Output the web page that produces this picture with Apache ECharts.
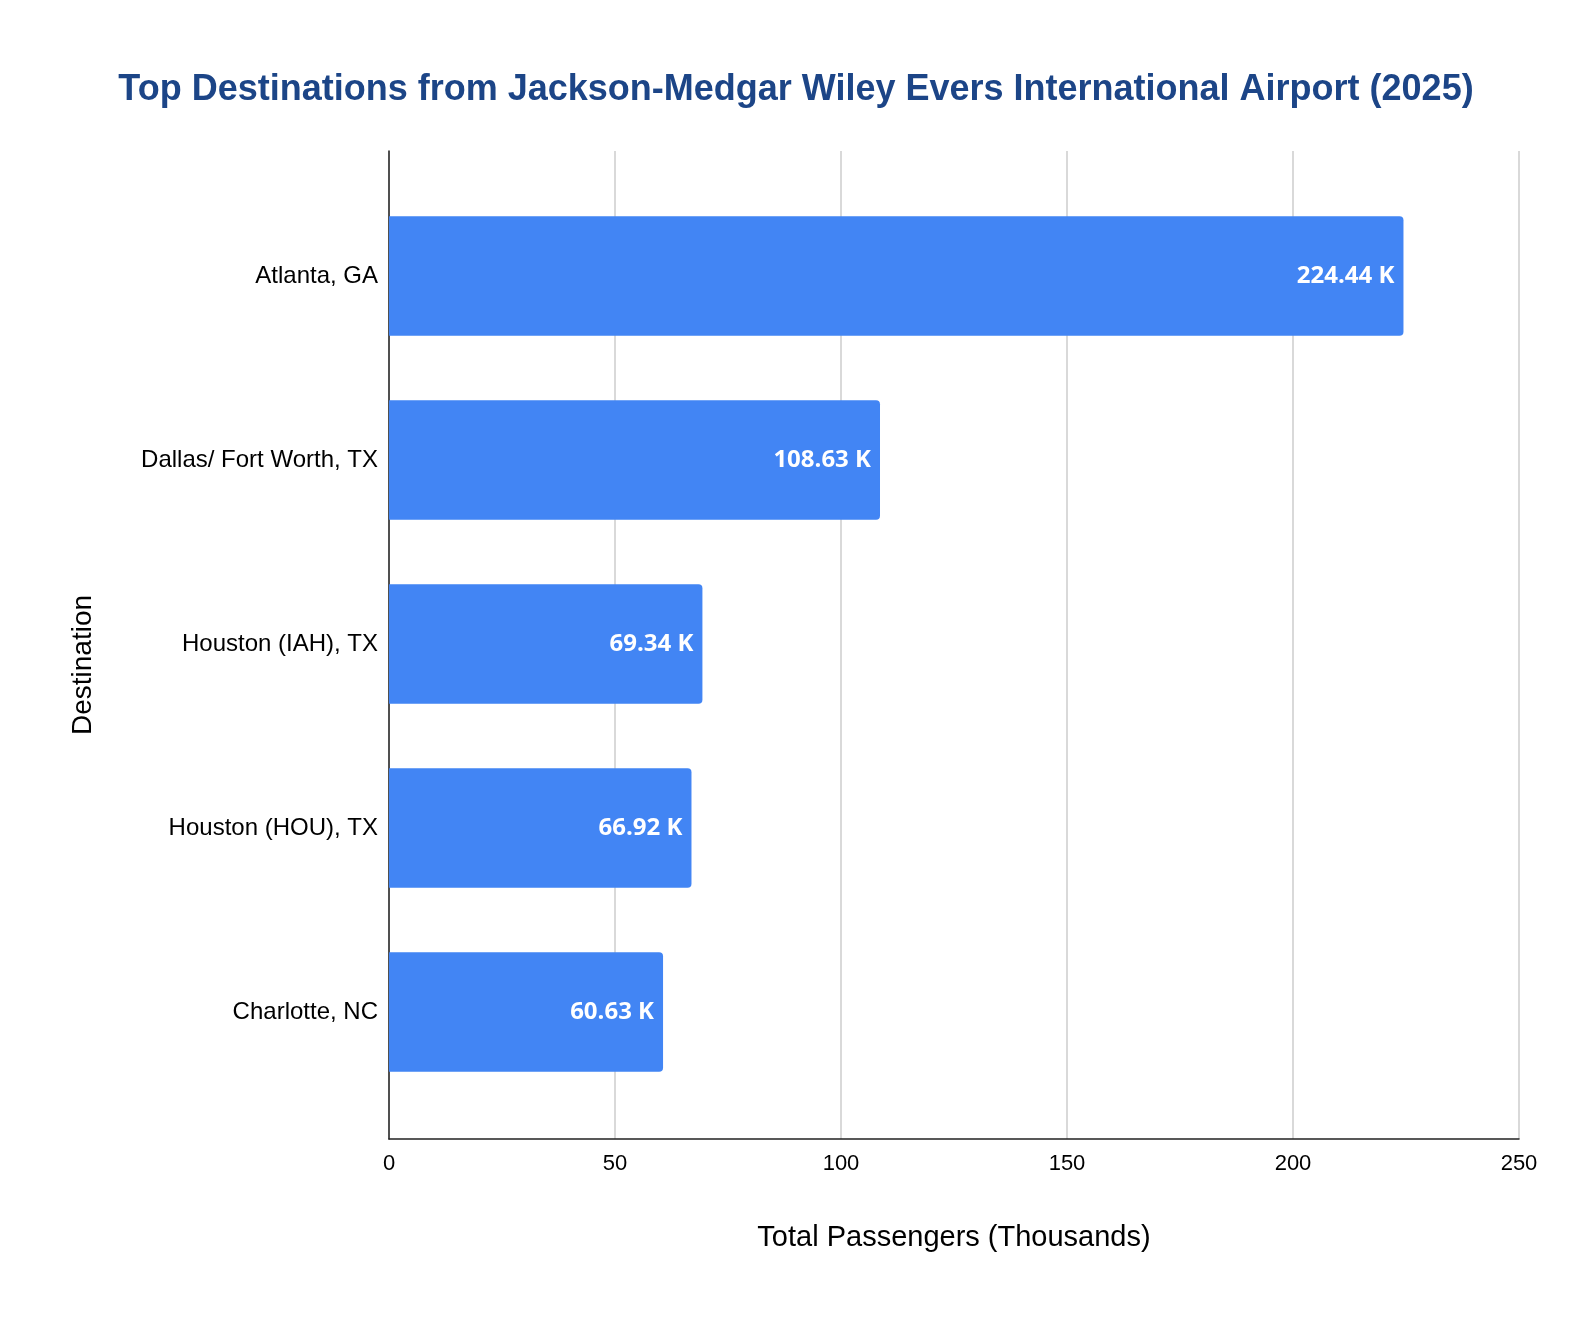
<!DOCTYPE html>
<html><head><meta charset="utf-8">
<script src="https://cdn.jsdelivr.net/npm/echarts@6/dist/echarts.min.js"></script>
<style>html,body{margin:0;padding:0;background:#fff}#c{width:1584px;height:1318px}</style>
</head><body><div id="c"></div>
<script>
const categories = ["Atlanta, GA", "Dallas/ Fort Worth, TX", "Houston (IAH), TX", "Houston (HOU), TX", "Charlotte, NC"];
const passengers = [224.44, 108.63, 69.34, 66.92, 60.63];
const xTicks = [0, 50, 100, 150, 200, 250];

const chart = echarts.init(document.getElementById('c'), null, {renderer: 'canvas'});
const sans = "'Liberation Sans', Arial, sans-serif";
chart.setOption({
  backgroundColor: '#fff',
  animation: false,
  title: {
    text: 'Top Destinations from Jackson-Medgar Wiley Evers International Airport (2025)',
    left: 791, top: 85, textAlign: 'center', textVerticalAlign: 'middle',
    textStyle: {fontFamily: sans, fontSize: 36, fontWeight: 'bold', color: '#1c4587'}
  },
  grid: [
    {left: 389, right: 65, top: 151, bottom: 179},
    {left: 389, right: 65, top: 184, bottom: 214}
  ],
  xAxis: [
    {type: 'value', gridIndex: 0, min: xTicks[0], max: xTicks[xTicks.length - 1], interval: xTicks[1] - xTicks[0],
     axisLine: {show: true, lineStyle: {color: '#222', width: 1.5}},
     axisTick: {show: false},
     axisLabel: {color: '#000', fontFamily: sans, fontSize: 22, margin: 14},
     splitLine: {show: true, lineStyle: {color: '#cccccc', width: 1.5}},
     name: 'Total Passengers (Thousands)', nameLocation: 'middle', nameGap: 99,
     nameTextStyle: {color: '#000', fontFamily: sans, fontSize: 29, verticalAlign: 'middle'}},
    {type: 'value', gridIndex: 1, min: xTicks[0], max: xTicks[xTicks.length - 1], show: false}
  ],
  yAxis: [
    {type: 'value', gridIndex: 0, min: 0, max: 1,
     axisLine: {show: true, lineStyle: {color: '#222', width: 1.5}},
     axisTick: {show: false}, axisLabel: {show: false}, splitLine: {show: false}},
    {type: 'category', gridIndex: 1, data: categories, inverse: true,
     axisLine: {show: false}, axisTick: {show: false},
     axisLabel: {color: '#000', fontFamily: sans, fontSize: 24, margin: 11}}
  ],
  graphic: [{
    type: 'text',
    rotation: Math.PI / 2,
    x: 83, y: 665,
    style: {text: 'Destination', fill: '#000', font: "28px 'Liberation Sans', Arial, sans-serif", textAlign: 'center', textVerticalAlign: 'middle'}
  }],
  series: [{
    type: 'bar', xAxisIndex: 1, yAxisIndex: 1,
    data: passengers,
    barCategoryGap: '35%',
    itemStyle: {color: '#4285f4', borderRadius: [0, 4, 4, 0]},
    label: {show: true, position: 'insideRight', distance: 9,
      formatter: p => p.value.toFixed(2) + ' K',
      color: '#fff', fontFamily: "'Open Sans', sans-serif", fontWeight: 'bold', fontSize: 24}
  }]
});
</script></body></html>
